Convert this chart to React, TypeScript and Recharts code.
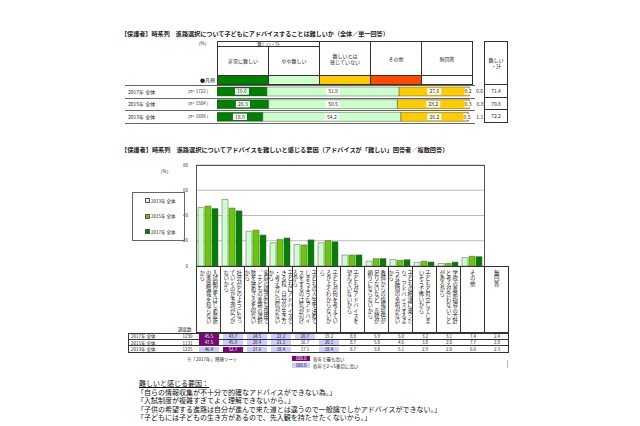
import React from 'react';
import { BarChart, Bar, XAxis, YAxis, CartesianGrid, LabelList } from 'recharts';

const FONT = '"Noto Sans CJK JP", "Noto Sans", sans-serif';

// ---------- Top chart data ----------
const topYears = ['2017年 全体', '2015年 全体', '2013年 全体'];
const topN = ['(n= 1722 )', '(n= 1584 )', '(n= 1696 )'];
const veryHard = [19.6, 20.3, 18.0];
const somewhatHard = [51.9, 50.5, 54.2];
const notHard = [27.6, 28.2, 26.2];
const otherTop = [0.2, 0.3, 0.5];
const noAnswerTop = [0.6, 0.8, 1.1];
const hardTotal = [71.4, 70.8, 72.2];
const topSegNames = ['非常に難しい', 'やや難しい', '難しいとは\n感じていない', 'その他', '無回答'];
const topSegColors = ['#008000', '#ccffcc', '#ffcc00', '#ff4a00', '#ffffff'];

// ---------- Bottom chart data ----------
const reasons = [
  '入試制度をはじめ最新の進路情報を知らないから',
  '社会がどのようになっていくのか予測がつかないから',
  '家庭の経済的な理由で、子どもの進路の選択肢を狭めざるを得ないから',
  '子どもにアドバイスできる程、自分の生き方・考え方に自信がないから',
  '子どもの人生を決めてしまうようなアドバイスをするのは気が引けるから',
  '子どもが何を考えているかよくわからないから',
  '子どもがアドバイスを望んでいないから',
  '教師からの情報提供が足りないなど、高校が頼りにならないから',
  '子どもの相談に乗ったり、アドバイスするような時間の余裕がないから',
  '子どもと対立してしまいそうで怖いから',
  '学校の進路指導の方針と考えが合わないことがあるから',
  'その他',
  '無回答',
];
const v2017 = [45.5, 43.7, 24.5, 22.2, 20.7, 19.2, 8.8, 5.9, 5.0, 3.2, 3.1, 7.4, 2.4];
const v2015 = [47.5, 45.9, 28.4, 21.1, 16.7, 20.1, 8.7, 5.8, 4.6, 3.8, 2.0, 7.7, 2.8];
const v2013 = [46.4, 52.7, 27.6, 18.4, 17.1, 18.4, 8.7, 3.8, 5.1, 2.9, 2.0, 6.6, 2.3];
const tableYears = ['2017年 全体', '2015年 全体', '2013年 全体'];
const tableN = [1230, 1131, 1225];
const legendYears = ['2013年 全体', '2015年 全体', '2017年 全体'];
const seriesColors = ['#ccffcc', '#66cc00', '#008000'];
const yTicks = [0, 20, 40, 60, 80];
const plottedCount = 12; // 無回答 is not plotted

const comments = [
  '「自らの情報収集が不十分で的確なアドバイスができない為。」',
  '「入試制度が複雑すぎてよく理解できないから。」',
  '「子供の希望する進路は自分が進んで来た道とは違うので一般論でしかアドバイスができない。」',
  '「子どもには子どもの生き方があるので、先入観を持たせたくないから。」',
];

const topData = topYears.map((y, i) => ({
  year: y,
  a: veryHard[i],
  b: somewhatHard[i],
  c: notHard[i],
  d: otherTop[i],
  e: noAnswerTop[i],
}));

const bottomData = reasons.slice(0, plottedCount).map((r, i) => ({
  name: r,
  y2013: v2013[i],
  y2015: v2015[i],
  y2017: v2017[i],
}));

const BoxLabel = (props: any) => {
  const x = Number(props.x), y = Number(props.y), w = Number(props.width), h = Number(props.height);
  const cx = x + w / 2;
  const cy = y + h / 2;
  const txt = Number(props.value).toFixed(1);
  return (
    <g>
      <rect x={cx - 7} y={cy - 3.2} width={14} height={6.4} fill="#fff" />
      <text x={cx} y={cy + 1.8} fontSize={5} textAnchor="middle" fill="#222" fontFamily={FONT}>{txt}</text>
    </g>
  );
};

const EndLabel = (props: any) => {
  const x = Number(props.x), y = Number(props.y), w = Number(props.width), h = Number(props.height);
  const ex = x + w + 1.5;
  const cy = y + h / 2;
  const txt = Number(props.value).toFixed(1);
  return (
    <g>
      <rect x={ex - 7} y={cy - 3.2} width={7} height={6.4} fill="#fff" />
      <text x={ex} y={cy + 1.8} fontSize={5} textAnchor="end" fill="#222" fontFamily={FONT}>{txt}</text>
    </g>
  );
};

const OutLabel = (props: any) => {
  const x = Number(props.x), y = Number(props.y), w = Number(props.width), h = Number(props.height);
  const sx = x + w + 4.5;
  const cy = y + h / 2;
  const txt = Number(props.value).toFixed(1);
  return (
    <text x={sx} y={cy + 1.8} fontSize={5} textAnchor="start" fill="#222" fontFamily={FONT}>{txt}</text>
  );
};

function rankClass(vals: number[], i: number): number {
  const considered = vals.slice(0, 11);
  if (i >= 11) return 0;
  const r = considered.filter((v) => v > vals[i]).length + 1;
  if (r === 1) return 2;
  if (r <= 5) return 1;
  return 0;
}

const abs = (l: number, t: number, w?: number, h?: number): React.CSSProperties => ({
  position: 'absolute', left: l, top: t, width: w, height: h, boxSizing: 'border-box',
});

const CHARS_PER_COL = 10;
const VFONT = 5.4;
const VLINE = 6.4;

function splitCols(s: string): string[] {
  const chars = Array.from(s);
  const cols: string[] = [];
  for (let i = 0; i < chars.length; i += CHARS_PER_COL) cols.push(chars.slice(i, i + CHARS_PER_COL).join(''));
  return cols;
}

export default function App() {
  const B = '1px solid #333';
  const headerCells = [
    { l: 217, t: 46, w: 52, h: 30 },
    { l: 268, t: 46, w: 52, h: 30 },
    { l: 319, t: 41, w: 52, h: 35 },
    { l: 370, t: 41, w: 52, h: 35 },
    { l: 421, t: 41, w: 52, h: 35 },
  ];
  const tableRows = [v2017, v2015, v2013];
  return (
    <div style={{ position: 'absolute', left: 0, top: 0, width: 640, height: 426, background: '#fff', fontFamily: FONT, color: '#222', overflow: 'hidden' }}>
      {/* Title 1 */}
      <div style={{ ...abs(121, 28.5), fontSize: 6.1, fontWeight: 700, whiteSpace: 'nowrap', lineHeight: '9px' }}>
        【保護者】時系列　進路選択について子どもにアドバイスすることは難しいか（全体／単一回答）
      </div>
      <div style={{ ...abs(196, 40), fontSize: 4.5, whiteSpace: 'nowrap' }}>（%）</div>

      {/* Header */}
      <div style={{ ...abs(217, 41, 103, 6), border: B, fontSize: 4.5, lineHeight: '4px', textAlign: 'center' }}>難しい・計</div>
      {headerCells.map((c, i) => (
        <div key={i} style={{ ...abs(c.l, c.t, c.w, c.h), border: B, fontSize: 5, lineHeight: '6px', display: 'flex', alignItems: 'center', justifyContent: 'center', textAlign: 'center', whiteSpace: 'pre' }}>
          {topSegNames[i]}
        </div>
      ))}
      {headerCells.map((c, i) => (
        <div key={'lg' + i} style={{ ...abs(c.l, 75, c.w, 10), border: B, background: topSegColors[i] }} />
      ))}
      <div style={{ ...abs(180, 76), width: 35, fontSize: 5, textAlign: 'right', whiteSpace: 'nowrap', lineHeight: '7px' }}>●凡例</div>
      <div style={{ ...abs(484, 41, 24, 44), border: B, fontSize: 5, lineHeight: '6px', display: 'flex', alignItems: 'center', justifyContent: 'center', textAlign: 'center', whiteSpace: 'pre' }}>{'難しい\n・計'}</div>
      {hardTotal.map((v, i) => (
        <div key={'ht' + i} style={{ ...abs(484, 84 + i * 12.5, 24, 13.5), border: B, fontSize: 5, display: 'flex', alignItems: 'center', justifyContent: 'center' }}>{v.toFixed(1)}</div>
      ))}
      {topYears.map((y, i) => (
        <React.Fragment key={'ty' + i}>
          <div style={{ ...abs(128, 87.5 + i * 12.6), fontSize: 5, whiteSpace: 'nowrap', lineHeight: '7px' }}>{y}</div>
          <div style={{ ...abs(188, 87.5 + i * 12.6), fontSize: 4.5, whiteSpace: 'nowrap', lineHeight: '7px' }}>{topN[i]}</div>
        </React.Fragment>
      ))}
      {[85, 97.6, 110.2, 122.6].map((t, i) => (
        <div key={'sl' + i} style={{ ...abs(125, t, 350, 0), borderTop: '0.8px solid #666' }} />
      ))}

      {/* Top stacked chart */}
      <div style={{ position: 'absolute', left: 217, top: 85 }}>
        <BarChart layout="vertical" width={285} height={38} data={topData} margin={{ top: 0, right: 30, bottom: 0, left: 0 }} barCategoryGap={2}>
          <XAxis type="number" domain={[0, 100]} hide />
          <YAxis type="category" dataKey="year" hide />
          <Bar dataKey="a" stackId="s" fill={topSegColors[0]} stroke="#333" strokeWidth={0.4} isAnimationActive={false}>
            <LabelList dataKey="a" content={BoxLabel} />
          </Bar>
          <Bar dataKey="b" stackId="s" fill={topSegColors[1]} stroke="#333" strokeWidth={0.4} isAnimationActive={false}>
            <LabelList dataKey="b" content={BoxLabel} />
          </Bar>
          <Bar dataKey="c" stackId="s" fill={topSegColors[2]} stroke="#333" strokeWidth={0.4} isAnimationActive={false}>
            <LabelList dataKey="c" content={BoxLabel} />
          </Bar>
          <Bar dataKey="d" stackId="s" fill={topSegColors[3]} isAnimationActive={false}>
            <LabelList dataKey="d" content={EndLabel} />
          </Bar>
          <Bar dataKey="e" stackId="s" fill={topSegColors[4]} isAnimationActive={false}>
            <LabelList dataKey="e" content={OutLabel} />
          </Bar>
        </BarChart>
      </div>

      {/* Title 2 */}
      <div style={{ ...abs(121, 145), fontSize: 6.2, fontWeight: 700, whiteSpace: 'nowrap', lineHeight: '9px' }}>
        【保護者】時系列　進路選択についてアドバイスを難しいと感じる要因（アドバイスが「難しい」回答者／複数回答）
      </div>
      <div style={{ ...abs(158, 168), fontSize: 4.5, whiteSpace: 'nowrap' }}>（%）</div>

      {/* Bottom chart */}
      <div style={{ position: 'absolute', left: 176, top: 161 }}>
        <BarChart width={308} height={109} data={bottomData} margin={{ top: 4, right: 0, bottom: 4, left: 0 }} barCategoryGap={2} barGap={1}>
          <CartesianGrid horizontal vertical={false} stroke="#aaa" strokeWidth={0.8} />
          <XAxis dataKey="name" hide />
          <YAxis width={20} domain={[0, 80]} ticks={yTicks} interval={0} tick={{ fontSize: 4.5, fill: '#333', fontFamily: FONT }} tickLine={false} axisLine={false} />
          <Bar dataKey="y2013" fill={seriesColors[0]} stroke="#555" strokeWidth={0.5} isAnimationActive={false} />
          <Bar dataKey="y2015" fill={seriesColors[1]} stroke="#555" strokeWidth={0.5} isAnimationActive={false} />
          <Bar dataKey="y2017" fill={seriesColors[2]} stroke="#555" strokeWidth={0.5} isAnimationActive={false} />
        </BarChart>
      </div>
      <div style={{ ...abs(196, 165, 289, 102), border: '1px solid #555' }} />

      {/* Legend box */}
      <div style={{ ...abs(132, 192, 53, 49), border: '1px solid #666' }} />
      {legendYears.map((y, i) => (
        <div key={'lgy' + i} style={{ ...abs(145, 197.5 + i * 15.5), display: 'flex', alignItems: 'center', fontSize: 4.5, whiteSpace: 'nowrap', lineHeight: '6px' }}>
          <span style={{ display: 'inline-block', width: 3, height: 3, background: seriesColors[i], border: '0.5px solid #555', marginRight: 1 }} />
          {y}
        </div>
      ))}

      {/* Category label boxes */}
      {reasons.map((r, i) => {
        const cols = splitCols(r);
        const total = cols.length * VLINE;
        const left0 = (25 - total) / 2;
        return (
          <div key={'cb' + i} style={{ ...abs(196 + i * 24, 266, 25, 67), border: '1px solid #333', overflow: 'hidden' }}>
            {cols.map((col, k) => (
              <div key={k} style={{ position: 'absolute', top: 3, left: left0 + (cols.length - 1 - k) * VLINE - 1, width: VLINE, height: 60, writingMode: 'vertical-rl', fontSize: VFONT, lineHeight: `${VLINE}px`, whiteSpace: 'nowrap' }}>
                {col}
              </div>
            ))}
          </div>
        );
      })}

      {/* Table */}
      <div style={{ ...abs(178, 326), fontSize: 4.5, whiteSpace: 'nowrap', lineHeight: '6px' }}>調査数</div>
      <div style={{ ...abs(128, 333, 381, 19.5), border: '1px solid #333' }} />
      {tableYears.map((y, r) => (
        <React.Fragment key={'tr' + r}>
          <div style={{ ...abs(128, 333 + r * 6.5, 381, 6.5), borderBottom: r < 2 ? '0.8px solid #333' : undefined }} />
          <div style={{ ...abs(131, 333 + r * 6.5), fontSize: 4.5, lineHeight: '6.5px', whiteSpace: 'nowrap' }}>{y}</div>
          <div style={{ ...abs(178, 333 + r * 6.5, 19, 6.5), fontSize: 4.5, lineHeight: '6.5px', textAlign: 'center' }}>{tableN[r]}</div>
          {tableRows[r].map((v, c) => {
            const k = rankClass(tableRows[r], c);
            const bg = k === 2 ? '#800080' : k === 1 ? '#ccccff' : 'transparent';
            return (
              <div key={c} style={{ ...abs(197 + c * 24 + 2, 333 + r * 6.5 + 0.8, 20, 5), background: bg, color: k === 2 ? '#fff' : '#222', fontSize: 4.5, lineHeight: '5px', textAlign: 'center' }}>
                {v.toFixed(1)}
              </div>
            );
          })}
        </React.Fragment>
      ))}
      <div style={{ ...abs(187, 356), fontSize: 4.5, whiteSpace: 'nowrap', lineHeight: '6px' }}>※「2017年」降順ソート</div>
      <div style={{ ...abs(292, 356, 18, 5), background: '#800080', color: '#fff', fontSize: 4.5, lineHeight: '5px', textAlign: 'center' }}>100.0</div>
      <div style={{ ...abs(313, 355.5), fontSize: 4.5, whiteSpace: 'nowrap', lineHeight: '6px' }}>各年で最も高い</div>
      <div style={{ ...abs(292, 363, 18, 5), background: '#ccccff', color: '#222', fontSize: 4.5, lineHeight: '5px', textAlign: 'center' }}>100.0</div>
      <div style={{ ...abs(313, 362.5), fontSize: 4.5, whiteSpace: 'nowrap', lineHeight: '6px' }}>各年で2～5番目に高い</div>
      <div style={{ ...abs(507, 360, 1, 8), borderRight: '1px solid #bbb' }} />

      {/* Comments */}
      <div style={{ ...abs(139, 379), fontSize: 7, lineHeight: '8.6px', whiteSpace: 'nowrap', color: '#111' }}>
        <div style={{ textDecoration: 'underline' }}>難しいと感じる要因：</div>
        {comments.map((c, i) => (
          <div key={i} style={{ marginLeft: -2 }}>{c}</div>
        ))}
      </div>
    </div>
  );
}
